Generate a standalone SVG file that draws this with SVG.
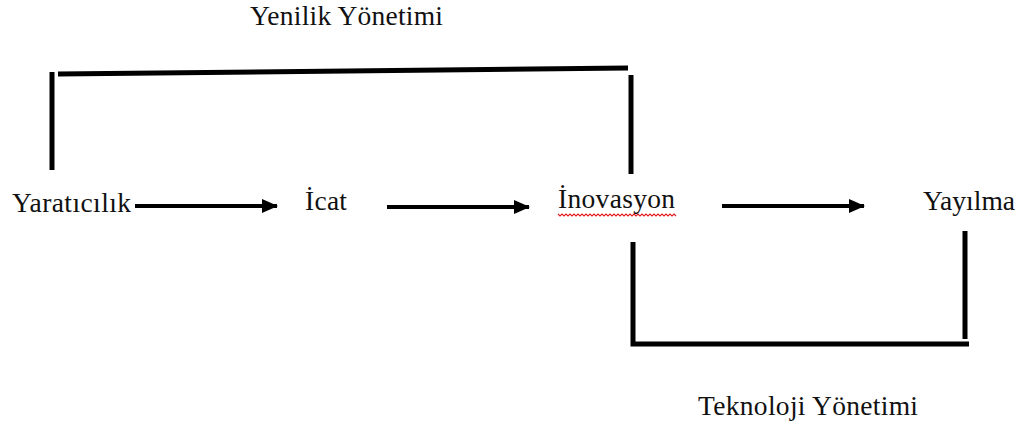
<svg xmlns="http://www.w3.org/2000/svg" width="1024" height="428" viewBox="0 0 1024 428">
<style>
.t{font-family:"Liberation Serif","Times New Roman",serif;font-size:27.5px;fill:#111}
.br{stroke:#000;stroke-width:5;fill:none}
.ar{stroke:#000;stroke-width:4;fill:none}
</style>
<defs>
<marker id="ah" markerWidth="16" markerHeight="14" refX="15" refY="7" orient="auto" markerUnits="userSpaceOnUse">
<path d="M0,0 L16,7 L0,14 Z" fill="#000"/>
</marker>
</defs>
<rect width="1024" height="428" fill="#fff"/>
<g id="yenilik-yonetimi"><text class="t" x="250" y="25" textLength="193" lengthAdjust="spacing">Yenilik Yönetimi</text></g>
<g id="teknoloji-yonetimi"><text class="t" x="698" y="415" textLength="220" lengthAdjust="spacing">Teknoloji Yönetimi</text></g>
<g id="yaraticilik"><text class="t" x="12" y="212" textLength="119" lengthAdjust="spacing">Yaratıcılık</text></g>
<g id="icat"><text class="t" x="305" y="210" textLength="42" lengthAdjust="spacing">İcat</text></g>
<g id="inovasyon"><text class="t" x="558" y="208" textLength="117" lengthAdjust="spacing">İnovasyon</text>
<path d="M558,214 l2,2 l2,-2 l2,2 l2,-2 l2,2 l2,-2 l2,2 l2,-2 l2,2 l2,-2 l2,2 l2,-2 l2,2 l2,-2 l2,2 l2,-2 l2,2 l2,-2 l2,2 l2,-2 l2,2 l2,-2 l2,2 l2,-2 l2,2 l2,-2 l2,2 l2,-2 l2,2 l2,-2 l2,2 l2,-2 l2,2 l2,-2 l2,2 l2,-2 l2,2 l2,-2 l2,2 l2,-2 l2,2 l2,-2 l2,2 l2,-2 l2,2 l2,-2 l2,2 l2,-2 l2,2 l2,-2 l2,2 l2,-2 l2,2 l2,-2 l2,2 l2,-2 l2,2 l2,-2 l2,2" fill="none" stroke="#e02020" stroke-width="1.2"/></g>
<g id="yayilma"><text class="t" x="923" y="210" textLength="92" lengthAdjust="spacing">Yayılma</text></g>
<g id="connectors">
<path class="ar" d="M135,206 L277,206" marker-end="url(#ah)"/>
<path class="ar" d="M387,207 L529,207" marker-end="url(#ah)"/>
<path class="ar" d="M722,206 L864,206" marker-end="url(#ah)"/>
<path class="br" d="M52,72 L52,170"/>
<path class="br" d="M58,74 L628,68"/>
<path class="br" d="M631,75 L631,174"/>
<path class="br" d="M633,242 L633,344 L969,344"/>
<path class="br" d="M965,231 L965,339"/>
</g>
</svg>
